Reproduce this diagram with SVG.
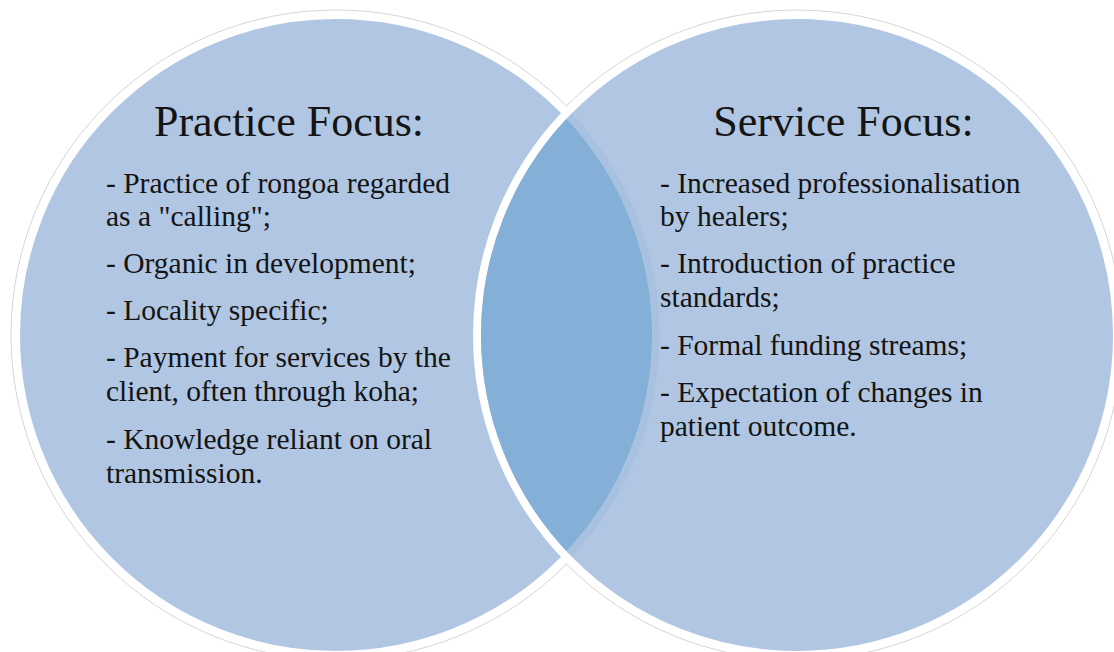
<svg xmlns="http://www.w3.org/2000/svg" width="1114" height="652" viewBox="0 0 1114 652">
  <style>
    .outline { fill: none; stroke: #cfcfcf; stroke-width: 0.9; }
    .circle { fill: #b0c6e2; stroke: #ffffff; stroke-width: 8; }
    .lens { fill: #84afd7; }
    .band { fill: none; stroke: #a7c1df; stroke-width: 7; }
    .title { font-family: "Liberation Serif", "DejaVu Serif", serif; font-size: 44px; fill: #141414; text-anchor: middle; }
    .item { font-family: "Liberation Serif", "DejaVu Serif", serif; font-size: 29.5px; fill: #141414; }
  </style>
  <rect width="1114" height="652" fill="#ffffff"/>
  <g id="outlines">
    <circle class="outline" cx="336" cy="335" r="325"/>
    <circle class="outline" cx="797" cy="335" r="325"/>
  </g>
  <g id="practice-focus">
    <circle class="circle" cx="336" cy="335" r="320"/>
  </g>
  <g id="service-focus">
    <circle class="circle" cx="797" cy="335" r="320"/>
  </g>
  <g id="overlap">
    <path class="lens" d="M 566.5 118.8 A 316 316 0 0 0 566.5 551.2 A 316 316 0 0 0 566.5 118.8 Z"/>
    <path class="band" d="M 569.3 116 A 320 320 0 0 1 569.3 554"/>
  </g>
  <g id="practice-text">
    <text class="title" x="289" y="136">Practice Focus:</text>
    <text class="item" x="106" y="193">- Practice of rongoa regarded</text>
    <text class="item" x="106" y="226">as a "calling";</text>
    <text class="item" x="106" y="273">- Organic in development;</text>
    <text class="item" x="106" y="320">- Locality specific;</text>
    <text class="item" x="106" y="367">- Payment for services by the</text>
    <text class="item" x="106" y="401">client, often through koha;</text>
    <text class="item" x="106" y="449">- Knowledge reliant on oral</text>
    <text class="item" x="106" y="483">transmission.</text>
  </g>
  <g id="service-text">
    <text class="title" x="843.5" y="136">Service Focus:</text>
    <text class="item" x="660" y="193">- Increased professionalisation</text>
    <text class="item" x="660" y="226">by healers;</text>
    <text class="item" x="660" y="273">- Introduction of practice</text>
    <text class="item" x="660" y="307">standards;</text>
    <text class="item" x="660" y="355">- Formal funding streams;</text>
    <text class="item" x="660" y="402">- Expectation of changes in</text>
    <text class="item" x="660" y="436">patient outcome.</text>
  </g>
</svg>
